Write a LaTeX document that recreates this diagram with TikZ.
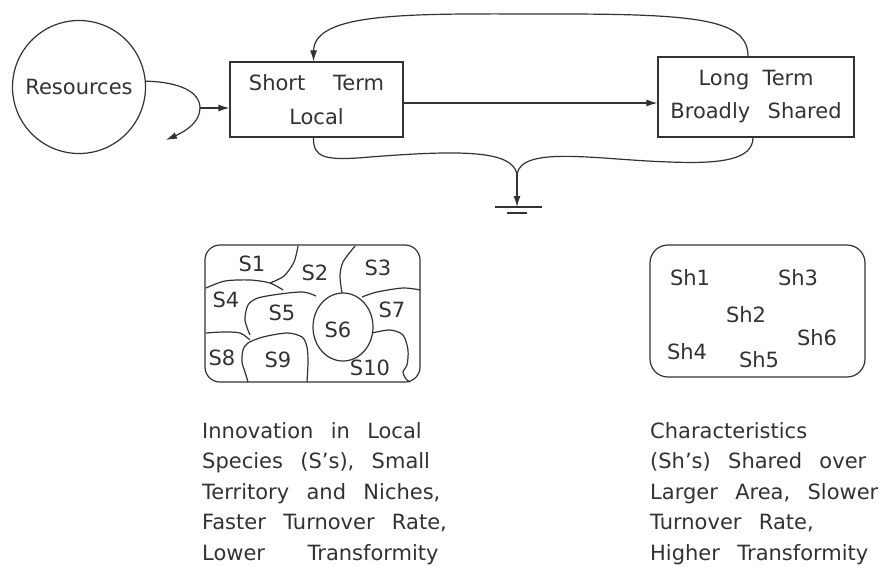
\documentclass[tikz,border=0pt]{standalone}
\usepackage{fontspec}
\setmainfont{DejaVu Sans}[WordSpace=2.6]
\usepackage{tikz}
\usetikzlibrary{
    arrows.meta,
    positioning,
    calc
}
\definecolor{InkGray}{RGB}{50,50,50}
\tikzset{
    ink/.style={
        draw=InkGray,
        line width=1.2pt
    },
    flow/.style={
        ink,
        -{Latex[length=11pt,width=7pt]}
    },
    storage/.style={
        ink,
        rectangle,
        align=center,
        inner sep=0pt,
        text=InkGray
    },
    spname/.style={
        inner sep=0pt,
        text=InkGray
    },
    blurb/.style={
        inner sep=0pt,
        align=left,
        anchor=north west,
        text=InkGray
    }
}

\begin{document}
\begin{tikzpicture}[x=1pt,y=-1pt,font=\fontsize{21}{31}\selectfont]
\useasboundingbox (0,0) rectangle (887,566);
%
    % Source and the two storages
%
    \node[
        ink,
        circle,
        minimum size=133pt,
        inner sep=0pt,
        text=InkGray
    ]
    (res) at (79,87) {Resources};
%
    \node[
        storage,
        minimum width=173pt,
        minimum height=75pt
    ]
    (st) at (316.5,99.5) {Short\hspace{0.5em} Term\\[3pt]Local};
%
    \node[
        storage,
        minimum width=196pt,
        minimum height=80pt
    ]
    (lt) at (756,97) {Long\hspace{-0.2em} Term\hspace{0.6em}\\[2pt]Broadly Shared};
%
    \coordinate (split) at (200,108);
    \coordinate (spill) at (166,140);
    \coordinate (st-out) at ([yshift=-3.5pt]st.east);
    \coordinate (sink) at (517,174);
    \coordinate (gnd) at (517,207);
%
    % Inflow from resources
%
    \draw[ink] (res.5) .. controls (180,82) and (200,92) .. (split);
    \draw[flow] (split) .. controls (200,122) and (186,131) .. (spill);
    \draw[flow] (split) -- (split -| st.west);
%
    % Transfer and feedback
%
    \draw[flow] (st-out) -- (st-out -| lt.west);
    \draw[flow]
    ([xshift=-8pt]lt.north)
    .. controls (748,20) and (700,14) .. (560,14)
    .. controls (420,14) and (314,10) .. ([xshift=-3pt]st.north);
%
    % Depreciation to heat sink
%
    \draw[ink]
    ([xshift=-3pt]st.south)
    .. controls (313,158) and (325,161) .. (370,157)
    .. controls (460,150) and (512,150) .. (sink);
    \draw[ink]
    ([xshift=-3pt]lt.south)
    .. controls (753,160) and (720,164) .. (670,162)
    .. controls (600,160) and (522,145) .. (sink);
    \draw[flow] (sink) -- (gnd);
    \draw[ink] ([xshift=-22pt]gnd) -- ([xshift=25pt]gnd);
    \draw[ink] ([xshift=-10pt,yshift=-6pt]gnd) -- ([xshift=10pt,yshift=-6pt]gnd);
%
    % Local species mosaic
%
    \draw[ink, rounded corners=15pt] (205,245) rectangle (420,382);
    \draw[ink] plot[smooth] coordinates {(298,246) (294,262) (284,276) (270,283)};
    \draw[ink] plot[smooth] coordinates {(206,288) (225,281) (250,280) (270,283) (283,290)};
    \draw[ink] plot[smooth] coordinates {(250,335) (245,320) (248,305) (258,298) (280,294) (303,292) (316,296)};
    \draw[ink] (343,327) ellipse [x radius=30, y radius=34];
    \draw[ink] plot[smooth] coordinates {(355,246) (343,262) (340,276) (342,293)};
    \draw[ink] plot[smooth] coordinates {(362,297) (377,292) (403,288) (420,290)};
    \draw[ink] plot[smooth] coordinates {(372,333) (390,330) (403,335) (408,350) (407,365) (403,372) (406,379) (410,382)};
    \draw[ink] plot[smooth] coordinates {(248,382) (245,372) (242,362) (243,350) (248,343) (263,337) (287,333) (302,337) (307,347) (308,362) (307,382)};
    \draw[ink] plot[smooth] coordinates {(206,333) (223,332) (240,333) (250,340)};
%
    \node[spname] (s1) at (252,264) {S1};
    \node[spname] (s2) at (315,273) {S2};
    \node[spname] (s3) at (378,268) {S3};
    \node[spname] (s4) at (226,300) {S4};
    \node[spname] (s5) at (282,313) {S5};
    \node[spname] (s6) at (338,330) {S6};
    \node[spname] (s7) at (392,310) {S7};
    \node[spname] (s8) at (222,358) {S8};
    \node[spname] (s9) at (278,360) {S9};
    \node[spname] (s10) at (370,368) {S10};
%
    % Shared characteristics
%
    \draw[ink, rounded corners=18pt] (650,245) rectangle (865,377);
    \node[spname] (sh1) at (690,278) {Sh1};
    \node[spname] (sh2) at (746,315) {Sh2};
    \node[spname] (sh3) at (798,278) {Sh3};
    \node[spname] (sh4) at (687,352) {Sh4};
    \node[spname] (sh5) at (759,360) {Sh5};
    \node[spname] (sh6) at (817,338) {Sh6};
%
    % Notes
%
    \node[blurb] (local-note) at (202,422) {
        Innovation in Local\\[-0.5pt]
        Species (S's), Small\\[-0.5pt]
        Territory and Niches,\\[-0.5pt]
        Faster Turnover Rate,\\[-0.5pt]
        Lower\hspace{1.2em} Transformity
    };
    \node[blurb] (shared-note) at (650,422) {
        Characteristics\\[-0.5pt]
        (Sh's) Shared over\\[-0.5pt]
        Larger Area, Slower\\[-0.5pt]
        Turnover Rate,\\[-0.5pt]
        Higher Transformity
    };
%
\end{tikzpicture}
\end{document}
